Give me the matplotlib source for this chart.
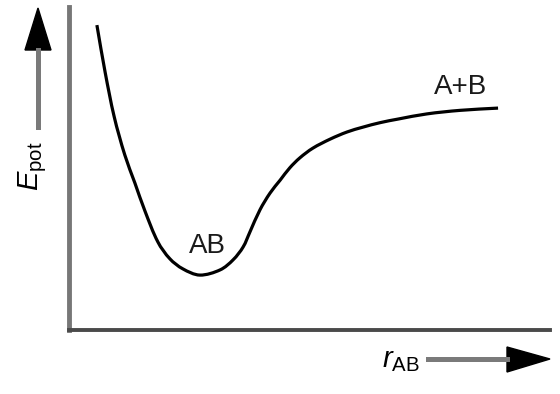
import matplotlib
matplotlib.use('Agg')
import matplotlib.pyplot as plt
import numpy as np
from matplotlib.lines import Line2D
from matplotlib.patches import Polygon, PathPatch
from matplotlib.path import Path

# font setup: narrow-ish sans like the original
plt.rcParams['font.family'] = ['Liberation Sans', 'DejaVu Sans']
plt.rcParams['mathtext.fontset'] = 'custom'
plt.rcParams['mathtext.rm'] = 'Liberation Sans'
plt.rcParams['mathtext.it'] = 'Liberation Sans:italic'

# potential energy curve (arbitrary units 0..10)
r_ab = [0.58, 0.75, 0.94, 1.16, 1.37, 1.58, 1.85, 2.10, 2.37, 2.72, 3.14, 3.41, 3.62,
        3.76, 3.97, 4.18, 4.39, 4.59, 4.80, 5.07, 5.43, 5.78, 6.11, 6.47, 6.84,
        7.44, 8.13, 8.92]
e_pot = [9.44, 7.99, 6.60, 5.42, 4.55, 3.68, 2.72, 2.20, 1.89, 1.70, 1.86, 2.17, 2.57,
         3.03, 3.72, 4.24, 4.64, 5.02, 5.33, 5.63, 5.91, 6.13, 6.28, 6.42, 6.53,
         6.69, 6.80, 6.87]

labels = ['AB', 'A+B']
label_r = [2.87, 8.15]
label_e = [2.60, 7.52]


def smooth_path(xs, ys):
    # chord-length hermite curve through the read points, as cubic beziers
    p = np.column_stack([xs, ys])
    d = np.hypot(*np.diff(p, axis=0).T)
    t = np.concatenate([[0], np.cumsum(d)])
    m = np.zeros_like(p)
    m[0] = (p[1] - p[0]) / d[0]
    m[-1] = (p[-1] - p[-2]) / d[-1]
    for i in range(1, len(p) - 1):
        m[i] = (p[i + 1] - p[i - 1]) / (t[i + 1] - t[i - 1])
    verts = [p[0]]
    codes = [Path.MOVETO]
    for i in range(len(p) - 1):
        h = d[i]
        verts += [p[i] + m[i] * h / 3, p[i + 1] - m[i + 1] * h / 3, p[i + 1]]
        codes += [Path.CURVE4] * 3
    return Path(verts, codes)


W, H = 560, 394
fig = plt.figure(figsize=(5.6, 3.94), dpi=100)
ax = fig.add_axes([69 / W, (H - 330) / H, (550 - 69) / W, (330 - 7) / H])

ax.add_patch(PathPatch(smooth_path(r_ab, e_pot), fill=False, edgecolor='black',
                       lw=2.3, joinstyle='round', capstyle='butt'))
for lab, x, y in zip(labels, label_r, label_e):
    ax.text(x, y, lab, fontsize=20, ha='center', va='center', color='#1a1a1a')

ax.set_xlim(0, 10)
ax.set_ylim(0, 10)
ax.set_xticks([])
ax.set_yticks([])
for s in ['top', 'right']:
    ax.spines[s].set_visible(False)
ax.spines['left'].set_color('#777777')
ax.spines['left'].set_linewidth(3.5)
ax.spines['bottom'].set_color('#4a4a4a')
ax.spines['bottom'].set_linewidth(2.8)

# axis labels with arrows (figure pixels)
fig.text(33 / W, (H - 166) / H, r'$E_{\rm pot}$', rotation=90, fontsize=21,
         ha='center', va='center')
fig.add_artist(Line2D([38 / W, 38 / W], [(H - 127) / H, (H - 50) / H],
                      color='#7a7a7a', lw=3.6))
fig.add_artist(Polygon([[25 / W, (H - 50) / H], [51 / W, (H - 50) / H], [38 / W, (H - 8) / H]],
                       closed=True, color='black'))

fig.text(401 / W, (H - 360) / H, r'$r_{\rm AB}$', fontsize=21, ha='center', va='center')
fig.add_artist(Line2D([428 / W, 507 / W], [(H - 359) / H, (H - 359) / H],
                      color='#7a7a7a', lw=3.6))
fig.add_artist(Polygon([[507 / W, (H - 347) / H], [507 / W, (H - 372) / H], [550 / W, (H - 359) / H]],
                       closed=True, color='black'))

fig.savefig('out.png', dpi=100)
